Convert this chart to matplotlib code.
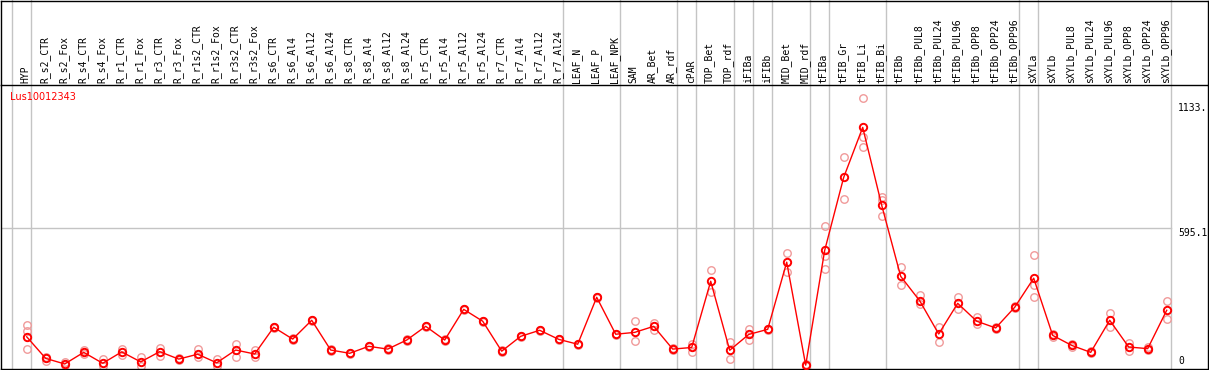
import matplotlib
matplotlib.use("Agg")
import matplotlib.pyplot as plt
from matplotlib.lines import Line2D
import matplotlib.transforms as mtransforms

gene = "Lus10012343"

conditions = [
    "HYP", "R_s2_CTR", "R_s2_Fox", "R_s4_CTR", "R_s4_Fox", "R_r1_CTR", "R_r1_Fox",
    "R_r3_CTR", "R_r3_Fox", "R_r1s2_CTR", "R_r1s2_Fox", "R_r3s2_CTR", "R_r3s2_Fox",
    "R_s6_CTR", "R_s6_Al4", "R_s6_Al12", "R_s6_Al24", "R_s8_CTR", "R_s8_Al4",
    "R_s8_Al12", "R_s8_Al24", "R_r5_CTR", "R_r5_Al4", "R_r5_Al12", "R_r5_Al24",
    "R_r7_CTR", "R_r7_Al4", "R_r7_Al12", "R_r7_Al24", "LEAF_N", "LEAF_P", "LEAF_NPK",
    "SAM", "AR_Bet", "AR_rdf", "cPAR", "TOP_Bet", "TOP_rdf", "iFIBa", "iFIBb",
    "MID_Bet", "MID_rdf", "tFIBa", "tFIB_Gr", "tFIB_Li", "tFIB_Bi", "tFIBb",
    "tFIBb_PUL8", "tFIBb_PUL24", "tFIBb_PUL96", "tFIBb_OPP8", "tFIBb_OPP24",
    "tFIBb_OPP96", "sXYLa", "sXYLb", "sXYLb_PUL8", "sXYLb_PUL24", "sXYLb_PUL96",
    "sXYLb_OPP8", "sXYLb_OPP24", "sXYLb_OPP96",
]

means = [
    127, 34, 10, 60, 13, 62, 19, 63, 31, 52, 15, 70, 53,
    168, 117, 198, 70, 56, 86, 74, 113, 172, 113, 245, 194,
    65, 129, 155, 116, 95, 297, 138,
    146, 172, 74, 81, 366, 69, 137, 159,
    448, 5, 499, 813, 1028, 693, 387,
    282, 139, 271, 194, 165, 254,
    379, 133, 90, 60, 198, 83, 76, 241,
]

replicates = [
    [178, 152, 74], [23, 41], [4, 17], [52, 68], [0, 30], [76, 49], [41, 0],
    [80, 46], [28, 34], [73, 41], [30, 0], [95, 41], [70, 41],
    [165, 171], [114, 120], [195, 201], [67, 73], [53, 59], [83, 89], [71, 77],
    [110, 116], [169, 175], [110, 116], [242, 248], [191, 197],
    [62, 68], [126, 132], [152, 158], [113, 119], [92, 98], [294, 300], [135, 141],
    [196, 110], [188, 156], [70, 78], [97, 63], [413, 318], [103, 30], [160, 114], [156, 162],
    [488, 407], [2, 8], [602, 476, 417], [899, 720], [1153, 988, 945], [727, 716, 647], [426, 349],
    [308, 267], [168, 106], [300, 245], [213, 181], [160, 170], [250, 258],
    [478, 350, 297], [128, 138], [95, 85], [56, 64], [228, 169], [99, 66], [70, 82], [280, 202],
]

axis_labels = ["1133.", "595.1", "0"]
axis_values = [1133, 595.1, 0]

group_ends = [-1, 0, 28, 31, 34, 35, 37, 38, 39, 41, 42, 45, 52, 53, 60]

W, H = 1209, 370
fig = plt.figure(figsize=(W / 100, H / 100), dpi=100)

# pixel geometry
x0_px, step_px = 26.7, 19.0
zero_px, k_px = 366.3, 0.2324
ax_top, ax_bot, ax_left, ax_right = 85.0, 368.5, 1.0, 1208.0

ax = fig.add_axes([ax_left / W, (H - ax_bot) / H, (ax_right - ax_left) / W, (ax_bot - ax_top) / H])
ax.set_xlim((ax_left - x0_px) / step_px, (ax_right - x0_px) / step_px)
ax.set_ylim((zero_px - ax_bot) / k_px, (zero_px - ax_top) / k_px)
ax.set_xticks([])
ax.set_yticks([])
for s in ax.spines.values():
    s.set_color("black")
    s.set_linewidth(1.0)

trans = mtransforms.blended_transform_factory(ax.transData, ax.transAxes)
top_frac = ax_bot / (ax_bot - ax_top)

# group separators
for g in group_ends:
    xs = g + 0.21
    ax.plot([xs, xs], [0, top_frac], color="#c4c4c4", lw=1.0, transform=trans,
            clip_on=False, zorder=1)

# horizontal grid at mid value
right_bound = group_ends[-1] + 0.21
ax.plot([ax.get_xlim()[0], right_bound], [axis_values[1], axis_values[1]],
        color="#c4c4c4", lw=1.0, zorder=1)

# replicates
for i, reps in enumerate(replicates):
    ax.plot([i] * len(reps), reps, linestyle="none", marker="o", ms=5.4,
            mfc="none", mec="#f09a9a", mew=1.0, zorder=2, clip_on=False)

xs = list(range(len(means)))
ax.plot(xs, means, color="red", lw=1.0, zorder=3)
ax.plot(xs, means, linestyle="none", marker="o", ms=5.3, mfc="none",
        mec="red", mew=1.4, zorder=4)

# condition labels
for i, lab in enumerate(conditions):
    ax.text(i - 0.05, 1 + 2.0 / (ax_bot - ax_top), lab, rotation=90, ha="center",
            va="bottom", fontsize=7, family="DejaVu Sans Mono", transform=trans)

# axis value labels
lx = (1178 - x0_px) / step_px
ax.text(lx, axis_values[0], axis_labels[0], ha="left", va="top", fontsize=7,
        family="DejaVu Sans Mono", clip_on=False)
ax.text(lx, axis_values[1], axis_labels[1], ha="left", va="top", fontsize=7,
        family="DejaVu Sans Mono", clip_on=False)
ax.text(lx, axis_values[2], axis_labels[2], ha="left", va="bottom", fontsize=7,
        family="DejaVu Sans Mono", clip_on=False)

# gene name
fig.text(10 / W, 1 - 97.3 / H, gene, color="red", fontsize=7, ha="left", va="center",
         family="DejaVu Sans")

# outer border lines in label region
def px_line(xa, ya, xb, yb):
    fig.add_artist(Line2D([xa / W, xb / W], [1 - ya / H, 1 - yb / H], color="black",
                          lw=1.0, transform=fig.transFigure))

px_line(ax_left, 0.5, ax_right, 0.5)
px_line(ax_left, 0.5, ax_left, ax_top)
px_line(ax_right, 0.5, ax_right, ax_top)

fig.savefig("out.png", dpi=100, facecolor="white")
